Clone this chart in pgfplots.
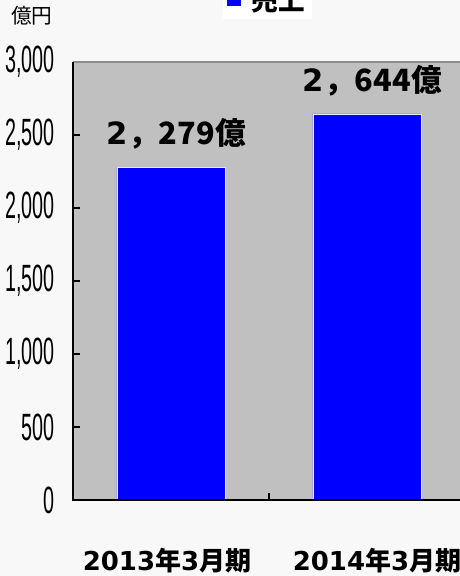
\documentclass[border=0pt]{standalone}
\usepackage{pgfplots}
\pgfplotsset{compat=1.18}
\usepackage{fontspec}
\setmainfont{DejaVu Sans}
\newfontfamily\cjk{Noto Sans CJK JP}
\newfontfamily\narrow{Liberation Sans}[FakeStretch=0.52]
\definecolor{bgcol}{HTML}{F8F8F8}
\definecolor{plotgray}{HTML}{C0C0C0}
\definecolor{barblue}{HTML}{0000FF}
\definecolor{baredge}{HTML}{E6E6FF}
\definecolor{topline}{HTML}{8C8C8C}

\begin{document}
\begin{tikzpicture}
  \path[use as bounding box] (-54.75pt,-57pt) rectangle (290.25pt,375pt);
  \clip (-54.75pt,-57pt) rectangle (290.25pt,375pt);
  \fill[bgcol] (-54.75pt,-57pt) rectangle (290.25pt,375pt);
  \begin{axis}[
    at={(0,0)}, anchor=south west,
    scale only axis,
    width=294pt, height=328.5pt,
    xmin=-0.5, xmax=1.5,
    ymin=0, ymax=3000,
    ybar, bar width=81pt, bar shift=0pt,
    axis background/.style={fill=plotgray},
    axis line style={draw=none},
    tick style={draw=black, line width=1pt},
    major tick length=5.25pt,
    tick align=inside,
    % category boundary tick
    xtick={0.5},
    xticklabels={},
    xtick pos=bottom,
    % categories
    extra x ticks={0,1},
    extra x tick labels={{2013{\cjk 年}3{\cjk 月期}\hspace*{6pt}},{\hspace*{15pt}2014{\cjk 年}3{\cjk 月期}}},
    extra x tick style={major tick length=0pt},
    xticklabel style={anchor=center, inner sep=0pt, yshift=-45.5pt,
      font=\fontsize{19.5pt}{21pt}\selectfont\bfseries},
    % values
    ytick={0,500,...,3000},
    ytick pos=left,
    /pgf/number format/assume math mode=true,
    yticklabel style={anchor=east, inner sep=0pt, xshift=-13.5pt,
      font=\narrow\fontsize{28.5pt}{30pt}\selectfont},
    nodes near coords={\pgfmathprintnumber[assume math mode=true, 1000 sep={{\cjk ，}}]{\pgfplotspointmeta}{\cjk 億}},
    every node near coord/.append style={anchor=center, inner sep=0pt,
      yshift=24.75pt, xshift=4pt, text=black,
      font=\fontsize{23pt}{25pt}\selectfont\bfseries},
    legend style={at={(axis description cs:0.496,1)}, anchor=south, yshift=32.25pt,
      fill=white, draw=none, inner sep=3pt,
      font=\fontsize{20pt}{22pt}\selectfont\cjk\bfseries},
    legend image code/.code={\fill[barblue] (0pt,-4.5pt) rectangle (10pt,5.25pt); \path (16pt,0pt);},
    after end axis/.code={
      \draw[topline, line width=1pt] (rel axis cs:0,1) -- (rel axis cs:1,1);
      \draw[black, line width=1.2pt] (rel axis cs:0,1) -- (rel axis cs:0,0) -- (rel axis cs:1,0);
    },
  ]
  \addplot[fill=barblue, draw=baredge, line width=0.6pt] coordinates {(0,2279) (1,2644)};
  \addlegendentry{売上}
  \end{axis}
  \node at (-30.75pt,363pt) {\cjk\fontsize{15.5pt}{17pt}\selectfont 億円};
\end{tikzpicture}
\end{document}
